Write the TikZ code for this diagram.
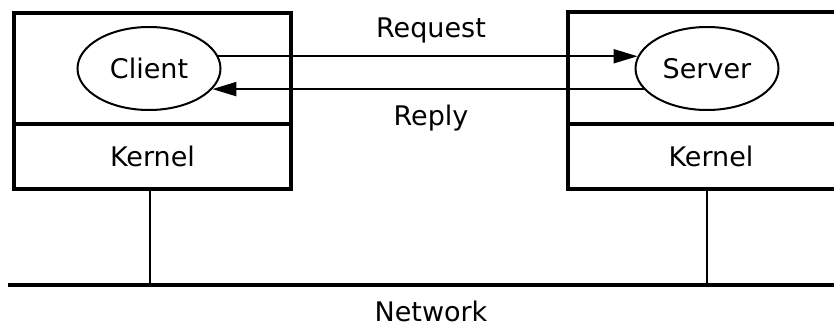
\documentclass[tikz,border=0pt]{standalone}
\usepackage{fontspec}
\setmainfont{DejaVu Sans}
\usetikzlibrary{arrows.meta,shapes.geometric}
\tikzset{part/.style={draw,line width=3.4pt,rectangle,inner sep=0pt},
	proc/.style={draw,line width=2pt,ellipse,minimum width=143pt,minimum height=83pt},
	txt/.style={font=\fontsize{27}{30}\selectfont}}

\begin{document}
\begin{tikzpicture}[x=1pt,y=-1pt]
		\clip (0,0) rectangle (834,328);
		\begin{scope}[every node/.style={part}]
			\node(userA) at (152.5,68.5) [minimum width=277pt,minimum height=111pt] {};
			\node(kernelA) at (152.5,156.5) [minimum width=277pt,minimum height=65pt] {};
			\node(userB) at (711,68) [minimum width=286pt,minimum height=112pt] {};
			\node(kernelB) at (711,156.5) [minimum width=286pt,minimum height=65pt] {};
		\end{scope}
		\begin{scope}[every node/.style={proc,txt}]
			\node(client) at (149,68.5) {Client};
			\node(server) at (707,68.5) {Server};
		\end{scope}
		\begin{scope}[every node/.style={txt}]
			\node at (kernelA) {Kernel};
			\node at (kernelB) {Kernel};
			\node(req) at (431,30) {Request};
			\node(rep) at (431,118) {Reply};
		\end{scope}
		\begin{scope}[>={Triangle[length=24pt,width=14pt]}, every edge/.style={draw=black,line width=2pt}]
			\path [->] (client.10) edge (server.170);
			\path [->] (server.-162) edge (client.-18);
		\end{scope}
		% network
		\coordinate(netL) at (8,285);
		\coordinate(netR) at (834,285);
		\coordinate(tapA) at (150,285);
		\coordinate(tapB) at (707,285);
		\draw[line width=3.6pt] (netL) -- (netR);
		\draw[line width=2.8pt] (tapA |- kernelA.south) -- (tapA);
		\draw[line width=2.8pt] (tapB |- kernelB.south) -- (tapB);
		\node[txt] (net) at (431,311) {Network};
	\end{tikzpicture}
\end{document}
